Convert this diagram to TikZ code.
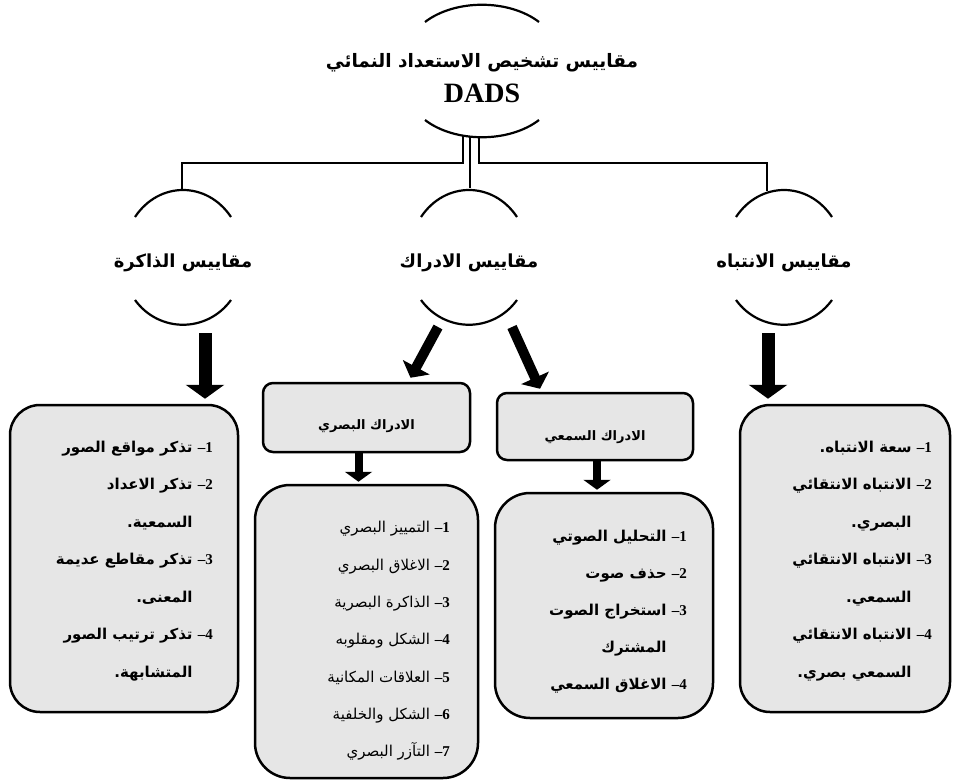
\documentclass[tikz,border=0pt]{standalone}
\usepackage{fontspec}
\setmainfont{Liberation Serif}
\newfontfamily\arabicfont[Script=Arabic]{DejaVu Sans}
\TeXXeTstate=1
\usetikzlibrary{arrows.meta,calc}
\definecolor{BoxGrey}{HTML}{E6E6E6}
\newcommand\arline[1]{\beginR #1\endR}
\newcommand\itemno[1]{\beginL{\rmfamily\bfseries –#1}\endL}
\tikzset{
  link/.style={line width=2pt},
  arcline/.style={line width=2.2pt},
  listbox/.style={draw,line width=2.5pt,fill=BoxGrey,rounded corners=30pt},
  headbox/.style={draw,line width=2.5pt,fill=BoxGrey,rounded corners=10pt},
  bigarrow/.style={line width=13pt,-{Triangle[width=38pt,length=14pt]}},
  midarrow/.style={line width=10pt,-{Triangle[width=30pt,length=12pt]}},
  smallarrow/.style={line width=8pt,-{Triangle[width=27pt,length=10pt]}},
  headtext/.style={font=\arabicfont\bfseries\fontsize{18}{22}\selectfont},
  boxlabel/.style={font=\arabicfont\bfseries\fontsize{13}{16}\selectfont},
  listtext/.style={anchor=east,align=right,font=\arabicfont\bfseries\fontsize{15}{37.5}\selectfont},
}

\begin{document}
\begin{tikzpicture}[x=1pt,y=-1pt,every node/.style={inner sep=0pt}]
  \useasboundingbox (0,0) rectangle (953,784);
  % title and the three scales
  \node[align=center,font=\bfseries\fontsize{28}{35}\selectfont] (title) at (482,78)
    {{\arabicfont\fontsize{18.5}{35}\selectfont\arline{مقاييس تشخيص الاستعداد النمائي}}\\DADS};
  \node[headtext] (memhead) at (183,263) {\arline{مقاييس الذاكرة}};
  \node[headtext] (perhead) at (469,263) {\arline{مقاييس الادراك}};
  \node[headtext] (atthead) at (784,263) {\arline{مقاييس الانتباه}};
  % arcs round the captions
  \draw[arcline] ($(title)+(-57,-56)$) .. controls +(30,-23) and +(-30,-23) .. ($(title)+(57,-56)$);
  \draw[arcline] ($(title)+(-57,42)$) .. controls +(30,23) and +(-30,23) .. ($(title)+(57,42)$);
  \foreach \n in {memhead,perhead,atthead}{
    \draw[arcline] ($(\n)+(-48,-46)$) .. controls +(24,-36) and +(-24,-36) .. ($(\n)+(48,-46)$);
    \draw[arcline] ($(\n)+(-48,37)$) .. controls +(24,33) and +(-24,33) .. ($(\n)+(48,37)$);
  }
  \draw[link] ($(title)+(-19,57)$) |- ($(memhead)+(-1,-100)$) -- ($(memhead)+(-1,-73)$);
  \draw[link] ($(title)+(-12,58)$) -- ($(perhead)+(1,-75)$);
  \draw[link] ($(title)+(-3,58)$) |- ($(atthead)+(-17,-100)$) -- ($(atthead)+(-17,-72)$);
  % boxes
  \node[listbox,minimum width=228pt,minimum height=307pt] (membox) at (124,558.5) {};
  \node[headbox,minimum width=207pt,minimum height=69pt] (vishead) at (366.5,417.5) {};
  \node[listbox,rounded corners=35pt,minimum width=223pt,minimum height=293pt] (visbox) at (366.5,631.5) {};
  \node[headbox,minimum width=196pt,minimum height=67pt] (audhead) at (595,426.5) {};
  \node[listbox,rounded corners=35pt,minimum width=218pt,minimum height=225pt] (audbox) at (604,605.5) {};
  \node[listbox,minimum width=210pt,minimum height=307pt] (attbox) at (845,558.5) {};
  \node[boxlabel] (vislabel) at ($(vishead)+(0,9)$) {\arline{الادراك البصري}};
  \node[boxlabel] (audlabel) at ($(audhead)+(0,11)$) {\arline{الادراك السمعي}};
  % arrows
  \draw[bigarrow] ($(memhead)+(22,70)$) -- ($(membox.north)+(81,-5)$);
  \draw[midarrow] ($(perhead)+(-31,64)$) -- ($(vishead.north)+(44,-4)$);
  \draw[midarrow] ($(perhead)+(43,64)$) -- ($(audhead.north)+(-55,-3)$);
  \draw[bigarrow] ($(atthead)+(-16,70)$) -- ($(attbox.north)+(-77,-5)$);
  \draw[smallarrow] ($(vishead.south)+(-8,0)$) -- ($(visbox.north)+(-8,-2)$);
  \draw[smallarrow] ($(audhead.south)+(2,0)$) -- ($(audbox.north)+(-7,-2)$);
  % lists
  \node[listtext] (memtext) at (213,561) {%
    \arline{\itemno{1} تذكر مواقع الصور}\\
    \arline{\itemno{2} تذكر الاعداد}\\
    \arline{السمعية.}\phantom{\itemno{2} }\\
    \arline{\itemno{3} تذكر مقاطع عديمة}\\
    \arline{المعنى.}\phantom{\itemno{3} }\\
    \arline{\itemno{4} تذكر ترتيب الصور}\\
    \arline{المتشابهة.}\phantom{\itemno{4} }};
  \node[listtext,font=\arabicfont\fontsize{15}{37.3}\selectfont] (vistext) at (450,641) {%
    \arline{\itemno{1} التمييز البصري}\\
    \arline{\itemno{2} الاغلاق البصري}\\
    \arline{\itemno{3} الذاكرة البصرية}\\
    \arline{\itemno{4} الشكل ومقلوبه}\\
    \arline{\itemno{5} العلاقات المكانية}\\
    \arline{\itemno{6} الشكل والخلفية}\\
    \arline{\itemno{7} التآزر البصري}};
  \node[listtext,font=\arabicfont\bfseries\fontsize{15}{37}\selectfont] (audtext) at (687,612) {%
    \arline{\itemno{1} التحليل الصوتي}\\
    \arline{\itemno{2} حذف صوت}\\
    \arline{\itemno{3} استخراج الصوت}\\
    \arline{المشترك}\phantom{\itemno{3} }\\
    \arline{\itemno{4} الاغلاق السمعي}};
  \node[listtext] (atttext) at (932,561) {%
    \arline{\itemno{1} سعة الانتباه.}\\
    \arline{\itemno{2} الانتباه الانتقائي}\\
    \arline{البصري.}\phantom{\itemno{2} }\\
    \arline{\itemno{3} الانتباه الانتقائي}\\
    \arline{السمعي.}\phantom{\itemno{3} }\\
    \arline{\itemno{4} الانتباه الانتقائي}\\
    \arline{السمعي بصري.}\phantom{\itemno{4} }};
\end{tikzpicture}
\end{document}
